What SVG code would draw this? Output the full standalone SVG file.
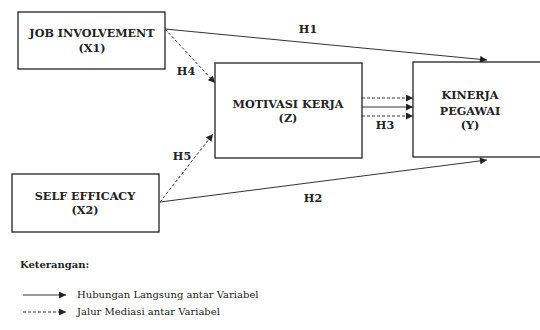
<svg xmlns="http://www.w3.org/2000/svg" width="540" height="330" viewBox="0 0 540 330">
<style>
.box{fill:#fff;stroke:#222;stroke-width:1.3}
.t{font-family:'DejaVu Serif',serif;font-weight:bold;font-size:11.2px;fill:#222;text-anchor:middle}
.leg{font-family:'DejaVu Serif',serif;font-size:10px;fill:#222}
.s{stroke:#333;stroke-width:1;fill:none}
.d{stroke:#333;stroke-width:1;fill:none;stroke-dasharray:3,2}
</style>
<defs>
<marker id="ah" viewBox="0 0 10 10" refX="10" refY="5" markerWidth="8" markerHeight="7" markerUnits="userSpaceOnUse" orient="auto">
<path d="M0,0 L10,5 L0,10 z" fill="#222"/>
</marker>
</defs>
<rect width="540" height="330" fill="#fff"/>
<g id="connectors">
<line class="s" x1="165" y1="29" x2="487" y2="60" marker-end="url(#ah)"/>
<line class="d" x1="165" y1="29" x2="215" y2="83" marker-end="url(#ah)"/>
<line class="d" x1="160" y1="202" x2="213" y2="134" marker-end="url(#ah)"/>
<line class="s" x1="160" y1="202" x2="487" y2="160" marker-end="url(#ah)"/>
<line class="d" x1="362" y1="98" x2="413" y2="98" marker-end="url(#ah)"/>
<line class="s" x1="362" y1="107" x2="413" y2="107" marker-end="url(#ah)"/>
<line class="d" x1="362" y1="116" x2="413" y2="116" marker-end="url(#ah)"/>
<text class="t" x="308" y="33">H1</text>
<text class="t" x="186" y="75">H4</text>
<text class="t" x="182" y="160">H5</text>
<text class="t" x="313" y="202">H2</text>
<text class="t" x="385" y="129">H3</text>
</g>
<g id="job">
<rect class="box" x="18" y="12" width="147" height="57"/>
<text class="t" x="92" y="37">JOB INVOLVEMENT</text>
<text class="t" x="92" y="52">(X1)</text>
</g>
<g id="motivasi">
<rect class="box" x="215" y="63" width="147" height="95"/>
<text class="t" x="288" y="108">MOTIVASI KERJA</text>
<text class="t" x="288" y="122">(Z)</text>
</g>
<g id="kinerja">
<rect class="box" x="413" y="62" width="140" height="95"/>
<text class="t" x="470" y="99">KINERJA</text>
<text class="t" x="470" y="115">PEGAWAI</text>
<text class="t" x="470" y="129">(Y)</text>
</g>
<g id="self">
<rect class="box" x="12" y="174" width="147" height="58"/>
<text class="t" x="85" y="200">SELF EFFICACY</text>
<text class="t" x="85" y="214">(X2)</text>
</g>
<g id="legend">
<text class="leg" x="20" y="268" font-weight="bold" font-size="9.7">Keterangan:</text>
<line class="s" x1="23" y1="295" x2="66" y2="295" marker-end="url(#ah)"/>
<text class="leg" x="77" y="298">Hubungan Langsung antar Variabel</text>
<line class="d" x1="23" y1="312" x2="66" y2="312" marker-end="url(#ah)"/>
<text class="leg" x="77" y="315">Jalur Mediasi antar Variabel</text>
</g>
</svg>
